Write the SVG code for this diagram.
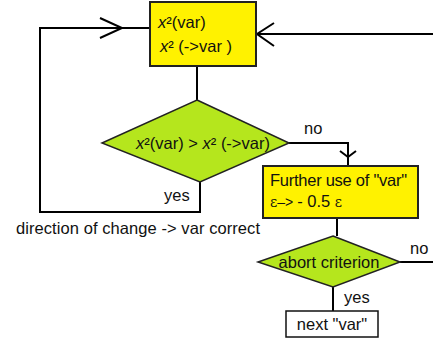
<svg xmlns="http://www.w3.org/2000/svg" width="433" height="341" viewBox="0 0 433 341">
<style>
.ln{fill:none;stroke:#000;stroke-width:2}
.box{fill:#FFF200;stroke:#222;stroke-width:2}
.dia{fill:#B5E61D;stroke:#222;stroke-width:1.5}
.t{font-family:"Liberation Sans",Arial,sans-serif;font-size:16.5px;fill:#111}
.i{font-style:italic}
</style>
<rect width="433" height="341" fill="#fff"/>
<g id="connectors">
<polyline class="ln" points="150,28 40,28 40,212 200,212 200,182"/>
<polyline class="ln" points="100,18 122,28 100,38"/>
<polyline class="ln" points="433,34 256,34"/>
<polyline class="ln" points="274,23 257,34 274,46"/>
<line class="ln" x1="197" y1="66" x2="197" y2="100"/>
<polyline class="ln" points="289,143 348,143 348,167"/>
<polyline class="ln" points="340,151 348,157 356,151"/>
<line class="ln" x1="337" y1="218" x2="337" y2="236"/>
<line class="ln" x1="400" y1="262" x2="433" y2="262"/>
<line class="ln" x1="333" y1="287" x2="333" y2="311"/>
</g>
<g id="n1">
<rect class="box" x="150" y="2" width="106" height="64"/>
<text class="t" x="158" y="28" font-size="17"><tspan class="i">x</tspan>²(var)</text>
<text class="t" x="160" y="52"><tspan class="i">x</tspan>² (-&gt;var )</text>
</g>
<g id="n2">
<polygon class="dia" points="197,100 289,143 200,182 102,143"/>
<text class="t" x="203" y="149" text-anchor="middle"><tspan class="i">x</tspan>²(var) &gt; <tspan class="i">x</tspan>² (-&gt;var)</text>
</g>
<text class="t" x="304" y="134">no</text>
<text class="t" x="164" y="201">yes</text>
<text class="t" x="16" y="234" textLength="244">direction of change  -&gt; var  correct</text>
<g id="n3">
<rect class="box" x="263" y="166" width="155" height="52"/>
<text class="t" x="270" y="186" textLength="137">Further use of "var"</text>
<text class="t" x="270" y="207"><tspan font-family="'DejaVu Serif',serif" font-size="14">ε</tspan><tspan font-size="14">–&gt; </tspan>- 0.5  <tspan font-family="'DejaVu Serif',serif" font-size="14">ε</tspan></text>
</g>
<g id="n4">
<polygon class="dia" points="333,236 400,262 333,287 258,262"/>
<text class="t" x="329" y="268" text-anchor="middle">abort criterion</text>
</g>
<text class="t" x="410" y="254">no</text>
<text class="t" x="344" y="303">yes</text>
<g id="n5">
<rect x="286" y="311" width="92" height="26" fill="#fff" stroke="#111" stroke-width="1.5"/>
<text class="t" x="332" y="330" text-anchor="middle">next "var"</text>
</g>
</svg>
